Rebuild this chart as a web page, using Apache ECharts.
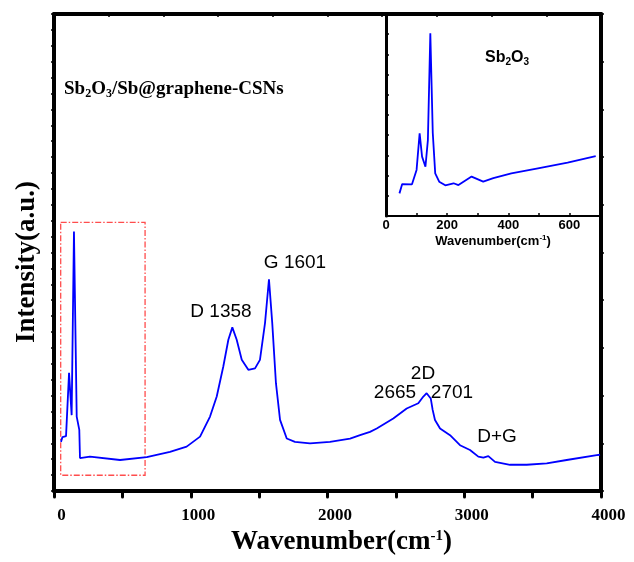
<!DOCTYPE html>
<html>
<head>
<meta charset="utf-8">
<script src="https://cdn.jsdelivr.net/npm/echarts@6/dist/echarts.min.js"></script>
<style>
  html, body { margin: 0; padding: 0; background: #fff; }
  #chart { width: 634px; height: 562px; }
</style>
</head>
<body>
<div id="chart"></div>
<script>
// 主图：Raman 光谱 (Sb2O3/Sb@graphene-CSNs)
var mainWavenumber = [51, 62, 88, 110, 129, 146, 166, 185, 190, 263, 483, 678, 848, 970, 1068, 1141, 1190, 1238, 1275, 1304, 1336, 1373, 1421, 1470, 1506, 1543, 1572, 1596, 1623, 1653, 1702, 1762, 1872, 2018, 2165, 2238, 2311, 2360, 2481, 2579, 2664, 2701, 2725, 2755, 2769, 2786, 2823, 2896, 2969, 3042, 3103, 3140, 3176, 3225, 3335, 3457, 3603, 3749, 3969, 3993];
var mainIntensity = [1.03, 1.13, 1.15, 2.48, 1.59, 5.44, 1.56, 1.28, 0.69, 0.72, 0.65, 0.71, 0.82, 0.93, 1.14, 1.56, 1.98, 2.61, 3.17, 3.43, 3.17, 2.75, 2.54, 2.57, 2.75, 3.52, 4.44, 3.52, 2.26, 1.49, 1.10, 1.03, 1.00, 1.03, 1.10, 1.17, 1.24, 1.31, 1.52, 1.73, 1.84, 1.98, 2.05, 1.94, 1.70, 1.49, 1.31, 1.17, 0.96, 0.86, 0.72, 0.70, 0.73, 0.61, 0.55, 0.55, 0.58, 0.65, 0.75, 0.76];

// 插图：Sb2O3
var insetWavenumber = [44, 53, 85, 100, 110, 118, 129, 137, 145, 153, 161, 174, 194, 221, 237, 280, 318, 351, 410, 497, 594, 686];
var insetIntensity = [1.12, 1.58, 1.57, 2.28, 4.09, 2.94, 2.44, 3.76, 9.04, 4.11, 2.11, 1.70, 1.52, 1.62, 1.53, 1.95, 1.70, 1.87, 2.11, 2.36, 2.64, 2.97];

// 红色虚线框（放大区域）
var zoomBox = { x: [49, 666], y: [5.63, 0.33] };

var mainTicks = [0, 1000, 2000, 3000, 4000];
var insetTicks = [0, 200, 400, 600];

var serif = '"Liberation Serif", "Times New Roman", serif';
var sans = '"Liberation Sans", Arial, sans-serif';

function pairs(xs, ys) {
  return xs.map(function (x, i) { return [x, ys[i]]; });
}

var myChart = echarts.init(document.getElementById('chart'));

var option = {
  animation: false,
  backgroundColor: '#fff',
  grid: [
    { left: 54, right: 33, top: 14, bottom: 71 },
    { left: 386, right: 34, top: 14, bottom: 346 }
  ],
  xAxis: [
    {
      gridIndex: 0, type: 'value', position: 'bottom',
      min: mainTicks[0], max: mainTicks[mainTicks.length - 1], interval: 1000,
      axisLine: { onZero: false, lineStyle: { color: '#000', width: 4, cap: 'round' } },
      axisTick: { inside: false, length: 6, lineStyle: { width: 3, color: '#000', cap: 'round' } },
      minorTick: { show: true, splitNumber: 2, length: 6, lineStyle: { width: 3, color: '#000', cap: 'round' } },
      splitLine: { show: false },
      axisLabel: {
        color: '#000', fontFamily: serif, fontWeight: 'bold', fontSize: 17, margin: 16, padding: [0, 0, 0, 15],
        formatter: function (v) { return String(v); }
      },
      name: '{t|Wavenumber(cm}{s|-1}{t|)}',
      nameLocation: 'middle', nameGap: 36,
      nameTextStyle: {
        padding: [0, 0, 0, 28],
        rich: {
          t: { fontFamily: serif, fontWeight: 'bold', fontSize: 27, color: '#000' },
          s: { fontFamily: serif, fontWeight: 'bold', fontSize: 15, color: '#000', padding: [0, 0, 12, 0] }
        }
      }
    },
    {
      gridIndex: 0, type: 'value', position: 'top',
      min: 0, max: 4000, interval: 400,
      axisLine: { onZero: false, lineStyle: { color: '#000', width: 4 } },
      axisTick: { inside: true, length: 3, lineStyle: { width: 1.5, color: '#000' } },
      axisLabel: { show: false },
      splitLine: { show: false }
    },
    {
      gridIndex: 1, type: 'value', position: 'bottom',
      min: 0, max: 700, interval: 200,
      axisLine: { onZero: false, lineStyle: { color: '#000', width: 2 } },
      axisTick: { inside: true, length: 3, lineStyle: { width: 1.5, color: '#000' } },
      minorTick: { show: true, splitNumber: 2, length: 3, lineStyle: { width: 1.5, color: '#000' } },
      splitLine: { show: false },
      axisLabel: {
        color: '#000', fontFamily: sans, fontWeight: 'bold', fontSize: 13, margin: 3,
        showMaxLabel: false,
        formatter: function (v) { return insetTicks.indexOf(v) >= 0 ? String(v) : ''; }
      },
      name: '{t|Wavenumber(cm}{s|-1}{t|)}',
      nameLocation: 'middle', nameGap: 18,
      nameTextStyle: {
        rich: {
          t: { fontFamily: sans, fontWeight: 'bold', fontSize: 13, color: '#000' },
          s: { fontFamily: sans, fontWeight: 'bold', fontSize: 8, color: '#000', padding: [0, 0, 7, 0] }
        }
      }
    }
  ],
  yAxis: [
    {
      gridIndex: 0, type: 'value', position: 'left',
      min: 0, max: 10, interval: 1,
      axisLine: { show: true, onZero: false, lineStyle: { color: '#000', width: 4, cap: 'round' } },
      axisTick: { show: true, inside: false, length: 3, lineStyle: { width: 1.5, color: '#000' } },
      minorTick: { show: true, splitNumber: 3, length: 3, lineStyle: { width: 1.5, color: '#000' } },
      axisLabel: { show: false },
      splitLine: { show: false }
    },
    {
      gridIndex: 0, type: 'value', position: 'right',
      min: 0, max: 10, interval: 1,
      axisLine: { show: true, onZero: false, lineStyle: { color: '#000', width: 4 } },
      axisTick: { show: true, inside: false, length: 3, lineStyle: { width: 1.5, color: '#000' } },
      axisLabel: { show: false },
      splitLine: { show: false }
    },
    {
      gridIndex: 1, type: 'value', position: 'left',
      min: 0, max: 10, interval: 1,
      axisLine: { show: true, onZero: false, lineStyle: { color: '#000', width: 3 } },
      axisTick: { show: true, inside: true, length: 3, lineStyle: { width: 1.5, color: '#000' } },
      axisLabel: { show: false },
      splitLine: { show: false }
    }
  ],
  series: [
    {
      name: 'Sb2O3/Sb@graphene-CSNs',
      type: 'line',
      xAxisIndex: 0, yAxisIndex: 0,
      data: pairs(mainWavenumber, mainIntensity),
      showSymbol: false,
      lineStyle: { color: '#0000ff', width: 1.8 },
      markArea: {
        silent: true,
        itemStyle: { color: 'rgba(0,0,0,0)', borderColor: '#ff4d4d', borderWidth: 1.3, borderType: [6, 2, 1.5, 2] },
        data: [[{ coord: [zoomBox.x[0], zoomBox.y[0]] }, { coord: [zoomBox.x[1], zoomBox.y[1]] }]]
      },
      z: 3
    },
    {
      name: 'Sb2O3',
      type: 'line',
      xAxisIndex: 2, yAxisIndex: 2,
      data: pairs(insetWavenumber, insetIntensity),
      showSymbol: false,
      lineStyle: { color: '#0000ff', width: 1.8 },
      z: 3
    }
  ],
  graphic: [
    {
      type: 'text', x: 27, y: 262, rotation: Math.PI / 2,
      style: {
        text: 'Intensity(a.u.)', fontFamily: serif, fontWeight: 'bold', fontSize: 27, fill: '#000',
        textAlign: 'center', textVerticalAlign: 'middle'
      }
    },
    {
      type: 'text', left: 64, top: 79,
      style: {
        text: '{a|Sb}{b|2}{a|O}{b|3}{a|/Sb@graphene-CSNs}',
        rich: {
          a: { fontFamily: serif, fontWeight: 'bold', fontSize: 19, fill: '#000', lineHeight: 22 },
          b: { fontFamily: serif, fontWeight: 'bold', fontSize: 12, fill: '#000', lineHeight: 22, padding: [9, 0, 0, 0] }
        }
      }
    },
    {
      type: 'text', left: 485, top: 49,
      style: {
        text: '{a|Sb}{b|2}{a|O}{b|3}',
        rich: {
          a: { fontFamily: sans, fontWeight: 'bold', fontSize: 16, fill: '#000', lineHeight: 20 },
          b: { fontFamily: sans, fontWeight: 'bold', fontSize: 10, fill: '#000', lineHeight: 20, padding: [8, 0, 0, 0] }
        }
      }
    },
    { type: 'text', x: 221, y: 312, style: { text: 'D 1358', fontFamily: sans, fontSize: 19, fill: '#000', textAlign: 'center', textVerticalAlign: 'middle' } },
    { type: 'text', x: 295, y: 263, style: { text: 'G 1601', fontFamily: sans, fontSize: 19, fill: '#000', textAlign: 'center', textVerticalAlign: 'middle' } },
    { type: 'text', x: 423, y: 374, style: { text: '2D', fontFamily: sans, fontSize: 19, fill: '#000', textAlign: 'center', textVerticalAlign: 'middle' } },
    { type: 'text', x: 395, y: 393, style: { text: '2665', fontFamily: sans, fontSize: 19, fill: '#000', textAlign: 'center', textVerticalAlign: 'middle' } },
    { type: 'text', x: 452, y: 393, style: { text: '2701', fontFamily: sans, fontSize: 19, fill: '#000', textAlign: 'center', textVerticalAlign: 'middle' } },
    { type: 'text', x: 497, y: 437, style: { text: 'D+G', fontFamily: sans, fontSize: 19, fill: '#000', textAlign: 'center', textVerticalAlign: 'middle' } }
  ]
};

myChart.setOption(option);
</script>
</body>
</html>
